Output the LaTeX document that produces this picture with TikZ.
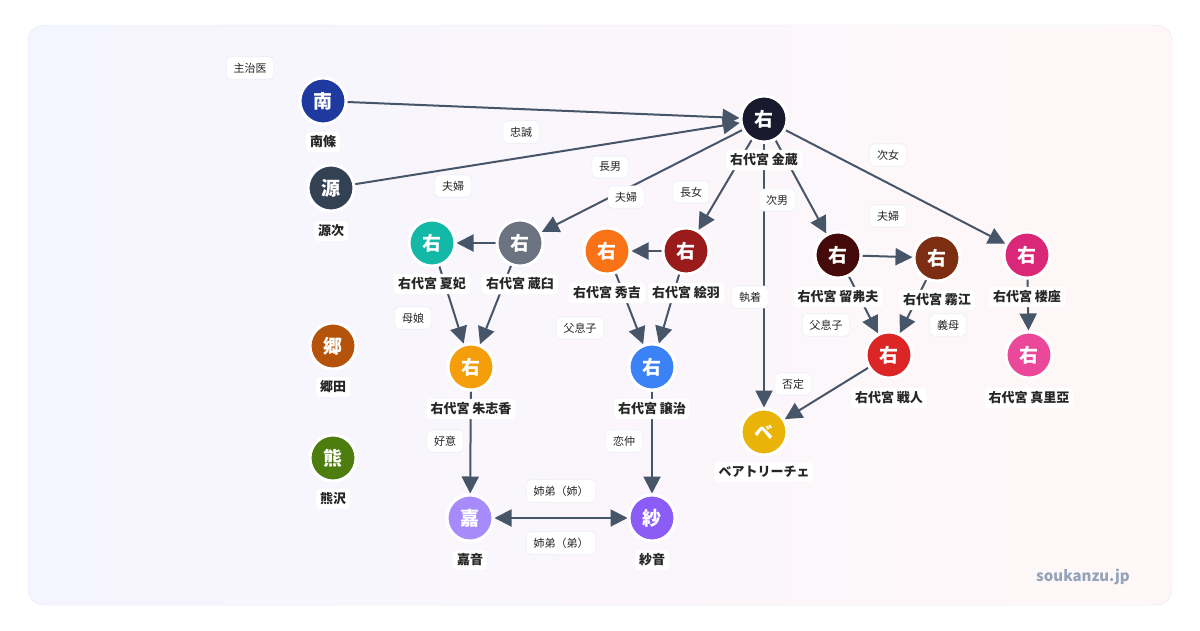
\documentclass[tikz,border=0pt]{standalone}
\usepackage{fontspec}
\setmainfont{Noto Sans CJK JP}
\usetikzlibrary{arrows.meta}

\definecolor{edgec}{HTML}{475569}
\definecolor{boxc}{HTML}{E2E8F0}
\definecolor{sitec}{HTML}{94A3B8}
\definecolor{cnan}{HTML}{1E3A9F}
\definecolor{cgen}{HTML}{334155}
\definecolor{ckin}{HTML}{1A1A2E}
\definecolor{cnat}{HTML}{14B8A6}
\definecolor{ckra}{HTML}{6B7280}
\definecolor{chid}{HTML}{F97316}
\definecolor{ceva}{HTML}{991B1B}
\definecolor{crud}{HTML}{450A0A}
\definecolor{ckir}{HTML}{7C2D12}
\definecolor{cros}{HTML}{DB2777}
\definecolor{cjes}{HTML}{F59E0B}
\definecolor{cgeo}{HTML}{3B82F6}
\definecolor{cbut}{HTML}{DC2626}
\definecolor{cmar}{HTML}{EC4899}
\definecolor{cbea}{HTML}{EAB308}
\definecolor{cgou}{HTML}{B45309}
\definecolor{ckum}{HTML}{4D7C0F}
\definecolor{ckan}{HTML}{A78BFA}
\definecolor{csha}{HTML}{8B5CF6}

\pgfdeclarelayer{bg}
\pgfdeclarelayer{edges}
\pgfsetlayers{bg,edges,main}

\tikzset{
	person/.style={circle, draw=white, line width=3pt, fill=#1, minimum size=46pt,
		text=white, font=\fontsize{19}{19}\selectfont\bfseries, inner sep=0pt},
	pname/.style={fill=white, rounded corners=4pt, inner sep=4pt,
		font=\fontsize{13}{15}\selectfont\bfseries, text=black!85},
	rel/.style={fill=white, draw=boxc, rounded corners=4pt, inner xsep=7pt, inner ysep=6pt,
		font=\fontsize{11}{12}\selectfont, text=black!85},
	link/.style={draw=edgec, line width=2pt, -{Triangle[length=17pt,width=17pt]}},
}

\begin{document}
\begin{tikzpicture}[x=1pt,y=-1pt]

	% ---- frame

	\useasboundingbox (0,0) rectangle (1200,630);
	\begin{pgfonlayer}{bg}
		\fill[white] (0,0) rectangle (1200,630);
		\shade[left color=blue!4, right color=red!3, draw=boxc, rounded corners=16pt]
			(28,25) rectangle (1172,605);
	\end{pgfonlayer}

	% ---- people

	\node[person=cnan] (nan) at (323,101) {南};
	\node[person=cgen] (gen) at (331,188) {源};
	\node[person=ckin] (kin) at (764,119) {右};
	\node[person=cnat] (nat) at (432,243) {右};
	\node[person=ckra] (kra) at (520,243) {右};
	\node[person=chid] (hid) at (607,251) {右};
	\node[person=ceva] (eva) at (686,251) {右};
	\node[person=crud] (rud) at (838,255) {右};
	\node[person=ckir] (kir) at (937,258) {右};
	\node[person=cros] (ros) at (1027,255) {右};
	\node[person=cjes] (jes) at (471,367) {右};
	\node[person=cgeo] (geo) at (652,367) {右};
	\node[person=cbut] (but) at (889,355) {右};
	\node[person=cmar] (mar) at (1029,355) {右};
	\node[person=cbea] (bea) at (764,432) {ベ};
	\node[person=cgou] (gou) at (333,346) {郷};
	\node[person=ckum] (kum) at (333,458) {熊};
	\node[person=ckan] (kan) at (470,518) {嘉};
	\node[person=csha] (sha) at (652,518) {紗};

	% ---- names

	\node[pname] (nan-n) at (323,142) {南條};
	\node[pname] (gen-n) at (331,231) {源次};
	\node[pname] (kin-n) at (764,160) {右代宮 金蔵};
	\node[pname] (nat-n) at (432,284) {右代宮 夏妃};
	\node[pname] (kra-n) at (520,284) {右代宮 蔵臼};
	\node[pname] (hid-n) at (607,293) {右代宮 秀吉};
	\node[pname] (eva-n) at (686,293) {右代宮 絵羽};
	\node[pname] (rud-n) at (838,297) {右代宮 留弗夫};
	\node[pname] (kir-n) at (937,300) {右代宮 霧江};
	\node[pname] (ros-n) at (1027,297) {右代宮 楼座};
	\node[pname] (jes-n) at (471,409) {右代宮 朱志香};
	\node[pname] (geo-n) at (652,409) {右代宮 譲治};
	\node[pname] (but-n) at (889,398) {右代宮 戦人};
	\node[pname] (mar-n) at (1029,398) {右代宮 真里亞};
	\node[pname] (bea-n) at (764,472) {ベアトリーチェ};
	\node[pname] (gou-n) at (333,387) {郷田};
	\node[pname] (kum-n) at (333,499) {熊沢};
	\node[pname] (kan-n) at (470,560) {嘉音};
	\node[pname] (sha-n) at (652,560) {紗音};

	% ---- relations

	\begin{pgfonlayer}{edges}
		\draw[link] (nan) -- (kin);
		\draw[link] (gen) -- (kin);
		\draw[link] (kin) -- (kra);
		\draw[link] (kra) -- (nat);
		\draw[link] (kin) -- (eva);
		\draw[link] (eva) -- (hid);
		\draw[link] (kin) -- (bea);
		\draw[link] (kin) -- (rud);
		\draw[link] (rud) -- (kir);
		\draw[link] (kin) -- (ros);
		\draw[link] (nat) -- (jes);
		\draw[link] (kra) -- (jes);
		\draw[link] (hid) -- (geo);
		\draw[link] (eva) -- (geo);
		\draw[link] (rud) -- (but);
		\draw[link] (kir) -- (but);
		\draw[link] (ros) -- (mar);
		\draw[link] (but) -- (bea);
		\draw[link] (jes) -- (kan);
		\draw[link] (geo) -- (sha);
		\draw[link, {Triangle[length=17pt,width=17pt]}-{Triangle[length=17pt,width=17pt]}] (kan) -- (sha);
	\end{pgfonlayer}

	% ---- relation labels

	\node[rel] (r-doc) at (250,68) {主治医};
	\node[rel] (r-chu) at (521,132) {忠誠};
	\node[rel] (r-cho) at (610,167) {長男};
	\node[rel] (r-fu1) at (453,186) {夫婦};
	\node[rel] (r-fu2) at (626,197) {夫婦};
	\node[rel] (r-joj) at (691,192) {長女};
	\node[rel] (r-jin) at (777,200) {次男};
	\node[rel] (r-jij) at (888,155) {次女};
	\node[rel] (r-fu3) at (888,216) {夫婦};
	\node[rel] (r-shu) at (750,297) {執着};
	\node[rel] (r-fs1) at (826,325) {父息子};
	\node[rel] (r-gib) at (948,325) {義母};
	\node[rel] (r-hit) at (793,384) {否定};
	\node[rel] (r-bo1) at (413,318) {母娘};
	\node[rel] (r-fs2) at (580,328) {父息子};
	\node[rel] (r-koi) at (445,441) {好意};
	\node[rel] (r-ren) at (624,441) {恋仲};
	\node[rel] (r-ane) at (561,491) {姉弟（姉）};
	\node[rel] (r-oto) at (561,543) {姉弟（弟）};

	% ---- site mark

	\node[font=\fontsize{15}{15}\selectfont\bfseries, text=sitec] (site) at (1083,577) {soukanzu.jp};

\end{tikzpicture}
\end{document}
